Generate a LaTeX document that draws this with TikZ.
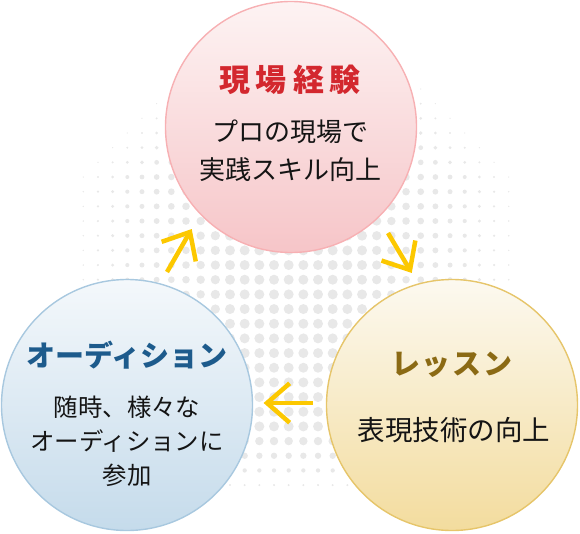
\documentclass[tikz,border=0pt]{standalone}
\usepackage{fontspec}
\newfontfamily\cjk{Noto Sans CJK JP}
\usetikzlibrary{calc}
\definecolor{dotc}{HTML}{E8E8E8}
\definecolor{arrc}{HTML}{FCC800}
\definecolor{redtop}{HTML}{FDF3F3}
\definecolor{redbot}{HTML}{F6C5C8}
\definecolor{redline}{HTML}{F7B0B3}
\definecolor{bluetop}{HTML}{F4F8FB}
\definecolor{bluebot}{HTML}{C5DBEB}
\definecolor{blueline}{HTML}{A8C8DF}
\definecolor{goldtop}{HTML}{FCF9F0}
\definecolor{goldbot}{HTML}{F3DC9E}
\definecolor{goldline}{HTML}{E6C56A}
\definecolor{redtxt}{HTML}{D3272E}
\definecolor{bluetxt}{HTML}{1D5B8C}
\definecolor{goldtxt}{HTML}{8B6A14}
\definecolor{bodytxt}{HTML}{141414}
\tikzset{
  bubble/.style={circle, minimum size=251pt, inner sep=0pt, line width=1.4pt},
  ttl/.style={inner sep=0pt, font=\cjk\bfseries},
  body/.style={inner sep=0pt, align=center, text=bodytxt},
  arrowline/.style={draw=arrc, line width=4.5pt, line join=miter, line cap=butt},
}
\begin{document}
\begin{tikzpicture}[x=1pt,y=-1pt]
\useasboundingbox (0,0) rectangle (580,533);
% halftone dots
\foreach \i in {0,...,29}{
  \foreach \j in {0,...,27}{
    \pgfmathsetmacro\px{83.3+14.67*\i}
    \pgfmathsetmacro\py{89+14.67*\j}
    \pgfmathsetmacro\dd{min(10,1.6+0.058*(213-abs(\px-296.2)))-0.06*max(0,180-\py)-0.14*max(0,\py-430)}
    \ifdim\dd pt>0.6pt
      \pgfmathsetmacro\rr{\dd/2}
      \fill[dotc] (\px,\py) circle[radius=\rr pt];
    \fi
  }
}
% circles
\node[bubble, draw=redline, top color=redtop, bottom color=redbot] (top) at (291,127) {};
\node[bubble, draw=blueline, top color=bluetop, bottom color=bluebot] (left) at (127,405) {};
\node[bubble, draw=goldline, top color=goldtop, bottom color=goldbot] (right) at (452,405) {};
% texts
\node[ttl, text=redtxt, font=\cjk\bfseries\fontsize{31pt}{36pt}\selectfont] (topT) at (290,80) {現\kern6pt 場\kern6pt 経\kern6pt 験};
\node[body, font=\cjk\fontsize{26pt}{38pt}\selectfont] (topB) at (290,151) {プロの現場で\\実践スキル向上};
\node[ttl, text=bluetxt, font=\cjk\bfseries\fontsize{29pt}{34pt}\selectfont] (leftT) at (127,355) {オーディション};
\node[body, font=\cjk\fontsize{24.4pt}{34pt}\selectfont] (leftB) at (127,441) {随時、様々な\\オーディションに\\参加};
\node[ttl, text=goldtxt, font=\cjk\bfseries\fontsize{29pt}{34pt}\selectfont] (rightT) at (452,365) {レ\kern2pt ッ\kern2pt ス\kern2pt ン};
\node[body, font=\cjk\fontsize{27.5pt}{34pt}\selectfont] (rightB) at (454,430) {表現技術の向上};
% arrows
\coordinate (a1s) at (167,272); \coordinate (a1t) at (190,232);
\coordinate (a2s) at (388,233); \coordinate (a2t) at (410,270);
\coordinate (a3s) at (313,403); \coordinate (a3t) at (267,403);
\foreach \a in {a1,a2,a3}{
  \draw[arrowline] (\a s) -- (\a t);
  \draw[arrowline] ($(\a t)!30pt!41:(\a s)$) -- (\a t) -- ($(\a t)!30pt!-41:(\a s)$);
}
\end{tikzpicture}
\end{document}
